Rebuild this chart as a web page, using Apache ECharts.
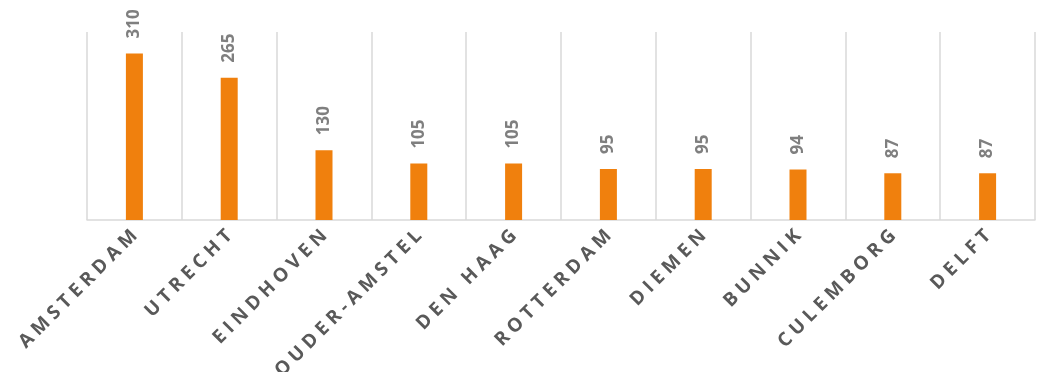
<!DOCTYPE html>
<html><head><meta charset="utf-8">
<script src="https://cdn.jsdelivr.net/npm/echarts@6/dist/echarts.min.js"></script>
<style>html,body{margin:0;padding:0;background:#fff}#c{width:1046px;height:372px}</style>
</head><body><div id="c"></div>
<script>
const categories = ['AMSTERDAM','UTRECHT','EINDHOVEN','OUDER-AMSTEL','DEN HAAG','ROTTERDAM','DIEMEN','BUNNIK','CULEMBORG','DELFT'];
const values = [310, 265, 130, 105, 105, 95, 95, 94, 87, 87];
const chart = echarts.init(document.getElementById('c'), null, {renderer: 'canvas'});
chart.setOption({
  animation: false,
  grid: {left: 87, right: 11, top: 32, bottom: 152, containLabel: false, outerBoundsMode: 'none'},
  xAxis: {
    type: 'category', data: categories,
    axisLine: {show: true, lineStyle: {color: '#d9d9d9', width: 1.5}},
    axisTick: {show: false},
    splitLine: {show: true, lineStyle: {color: '#d9d9d9', width: 1.5}},
    axisLabel: {
      rotate: 45, interval: 0, margin: 13, hideOverlap: false,
      color: '#595959', fontFamily: 'Open Sans', fontWeight: 'bold', fontSize: 19,
      formatter: v => v.split('').join('\u2005')
    }
  },
  yAxis: {type: 'value', min: 0, max: 350, show: false, splitLine: {show: false}},
  series: [{
    type: 'bar', data: values, barWidth: 17,
    itemStyle: {color: '#F0800D'},
    label: {
      show: true, position: 'top', rotate: 90, distance: 15,
      align: 'left', verticalAlign: 'middle',
      color: '#7f7f7f', fontFamily: 'Open Sans', fontWeight: 'bold', fontSize: 17
    }
  }]
});
</script></body></html>
